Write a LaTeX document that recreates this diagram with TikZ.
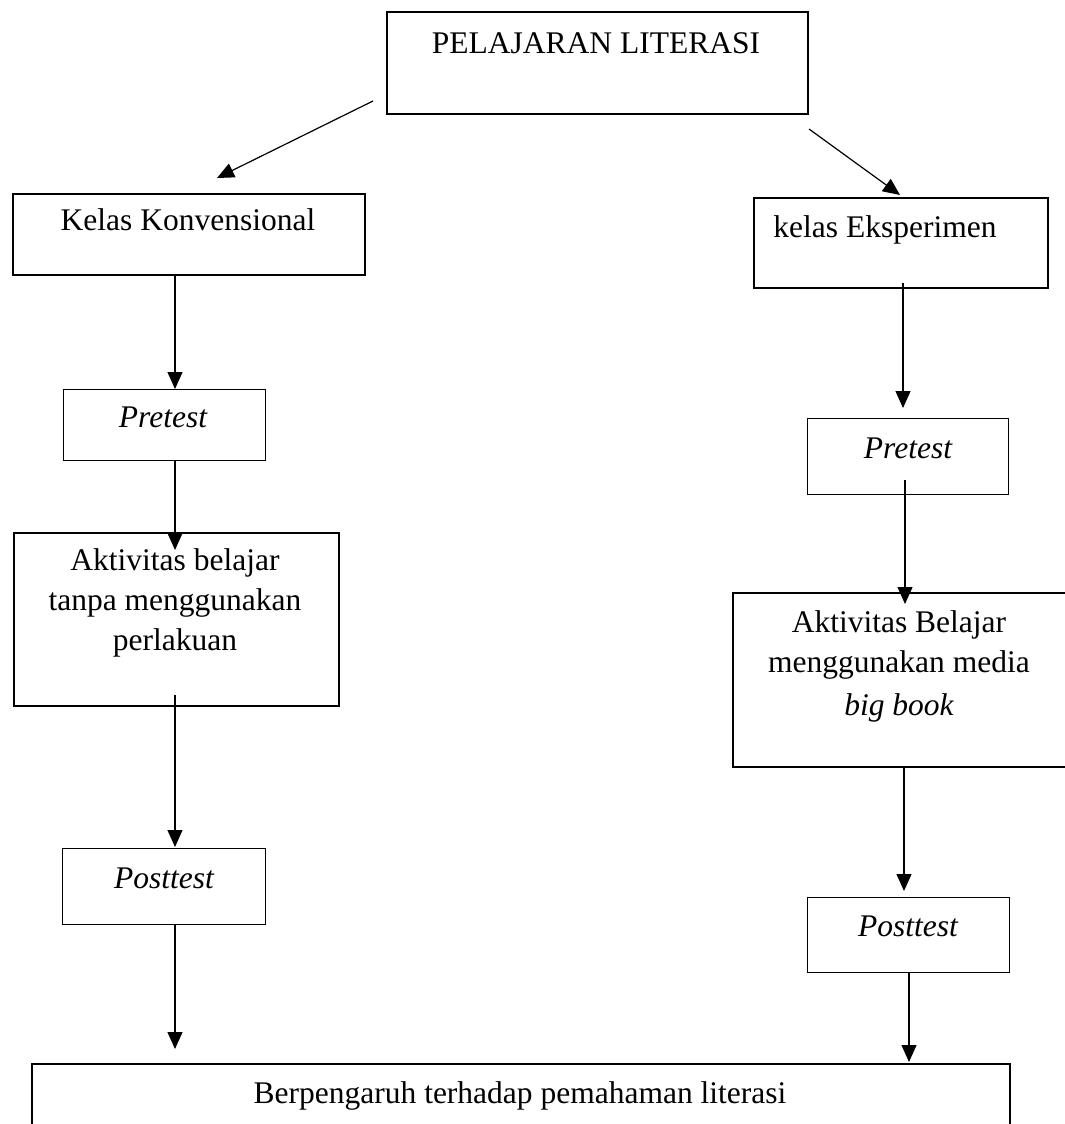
\documentclass[tikz,border=0pt]{standalone}
\usepackage{fontspec}
\setmainfont{Liberation Serif}
\usetikzlibrary{arrows.meta}
\newcommand{\fs}{\fontsize{31.5}{40}\selectfont}
\tikzset{
  boxthin/.style={draw, line width=1.3pt, rectangle, inner sep=0pt, anchor=north west},
  boxthick/.style={draw, line width=2pt, rectangle, inner sep=0pt, anchor=north west},
  lbl/.style={anchor=base, inner sep=0pt, font=\fs},
  conn/.style={line width=1.2pt, -{Triangle[length=17pt,width=15pt]}},
}
\begin{document}
\begin{tikzpicture}[x=1pt,y=-1pt]
\useasboundingbox (0,0) rectangle (1065,1124);
% boxes
\node[boxthick, minimum width=421pt, minimum height=102pt] (top) at (386,11) {};
\node[boxthick, minimum width=352pt, minimum height=81pt] (kk) at (12,193) {};
\node[boxthick, minimum width=294pt, minimum height=90pt] (ke) at (753,197) {};
\node[boxthin, minimum width=202pt, minimum height=71pt] (pre1) at (63,389) {};
\node[boxthin, minimum width=201pt, minimum height=76pt] (pre2) at (807,418) {};
\node[boxthick, minimum width=325pt, minimum height=173pt] (act1) at (13,532) {};
\node[boxthick, minimum width=345pt, minimum height=174pt] (act2) at (732,592) {};
\node[boxthin, minimum width=203pt, minimum height=76pt] (post1) at (62,848) {};
\node[boxthin, minimum width=202pt, minimum height=75pt] (post2) at (807,897) {};
\node[boxthick, minimum width=978pt, minimum height=90pt] (res) at (31,1063) {};
% texts
\node[lbl] (ttop) at (596,53) {PELAJARAN LITERASI};
\node[lbl] (tkk) at (188,230) {Kelas Konvensional};
\node[lbl] (tke) at (885,237) {kelas Eksperimen};
\node[lbl] (tpre1) at (163,427) {\itshape Pretest};
\node[lbl] (tpre2) at (908,458) {\itshape Pretest};
\node[lbl] (ta1a) at (175,570) {Aktivitas belajar};
\node[lbl] (ta1b) at (175,610) {tanpa menggunakan};
\node[lbl] (ta1c) at (175,650) {perlakuan};
\node[lbl] (ta2a) at (899,632) {Aktivitas Belajar};
\node[lbl] (ta2b) at (899,672) {menggunakan media};
\node[lbl] (ta2c) at (899,715) {\itshape big book};
\node[lbl] (tpost1) at (164,888) {\itshape Posttest};
\node[lbl] (tpost2) at (908,936) {\itshape Posttest};
\node[lbl] (tres) at (520,1103) {Berpengaruh terhadap pemahaman literasi};
% connector end points
\coordinate (a1s) at ([xshift=-13pt,yshift=14pt]top.south west);
\coordinate (a1e) at (217,178);
\coordinate (a2s) at ([yshift=-14pt]top.south east);
\coordinate (a2e) at (900,195);
\coordinate (k1) at (175,274);
\coordinate (p1t) at (175,389);
\coordinate (p1b) at (175,460);
\coordinate (c1t) at (175,550);
\coordinate (c1b) at (175,695);
\coordinate (q1t) at (175,847);
\coordinate (q1b) at (175,924);
\coordinate (r1) at (175,1049);
\coordinate (k2) at (903,283);
\coordinate (p2t) at (903,408);
\coordinate (p2b) at (905,480);
\coordinate (c2t) at (905,604);
\coordinate (c2b) at (904,766);
\coordinate (q2t) at (904,891);
\coordinate (q2b) at (909,972);
\coordinate (r2) at (909,1062);
% connectors
\draw[conn] (a1s) -- (a1e);
\draw[conn] (a2s) -- (a2e);
\draw[conn] (k1) -- (p1t);
\draw[conn] (p1b) -- (c1t);
\draw[conn] (c1b) -- (q1t);
\draw[conn] (q1b) -- (r1);
\draw[conn] (k2) -- (p2t);
\draw[conn] (p2b) -- (c2t);
\draw[conn] (c2b) -- (q2t);
\draw[conn] (q2b) -- (r2);
\end{tikzpicture}
\end{document}
